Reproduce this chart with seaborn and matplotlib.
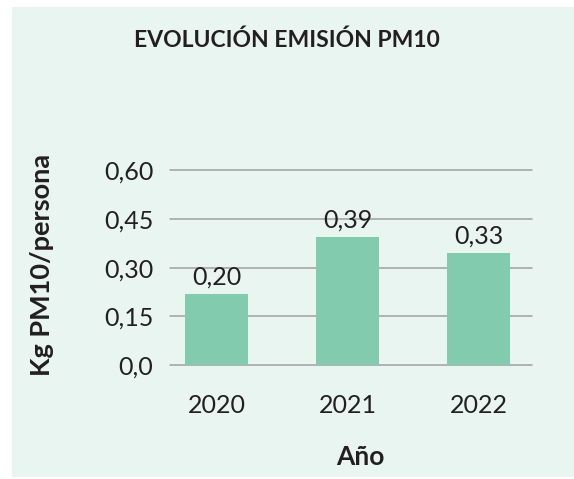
import matplotlib
matplotlib.use("Agg")
import matplotlib.pyplot as plt
import seaborn as sns
from matplotlib.patches import Rectangle

# data
YEARS = ["2020", "2021", "2022"]
VALUES = [0.219, 0.394, 0.345]
VALUE_LABELS = ["0,20", "0,39", "0,33"]
Y_TICKS = [0.0, 0.15, 0.30, 0.45, 0.60]
Y_TICK_LABELS = ["0,0", "0,15", "0,30", "0,45", "0,60"]

BG = "#e9f5f1"
BAR = "#82cbae"
TXT = "#231f20"

sns.set_theme(style="white")
plt.rcParams["font.family"] = ["Lato", "DejaVu Sans"]

fig = plt.figure(figsize=(5.74, 4.79), dpi=100)
fig.patch.set_facecolor("white")
fig.patches.append(Rectangle((12 / 574, 0.004), 1, 1 - 7 / 479 - 0.004,
                             transform=fig.transFigure, facecolor=BG,
                             edgecolor="none", zorder=-10))

ax = fig.add_axes([0.296, 0.2374, 0.631, 0.4076])
ax.set_facecolor("none")

sns.barplot(x=YEARS, y=VALUES, color=BAR, width=0.48, saturation=1,
            linewidth=0, ax=ax, zorder=3)
ax.bar_label(ax.containers[0], labels=VALUE_LABELS, padding=4,
             fontsize=18, color=TXT)

ax.set_xlim(-0.355, 2.405)
ax.set_ylim(0, 0.6)
ax.set_yticks(Y_TICKS)
ax.set_yticklabels(Y_TICK_LABELS)
for t in Y_TICKS:
    ax.axhline(t, color="#a0a0a0", lw=1.1, zorder=1, clip_on=False)

for s in ax.spines.values():
    s.set_visible(False)
ax.tick_params(axis="y", length=0, pad=12, labelsize=18, labelcolor=TXT)
ax.tick_params(axis="x", length=0, pad=21, labelsize=18, labelcolor=TXT)

ax.set_ylabel("Kg PM10/persona", fontsize=19.5, fontweight="bold", color=TXT,
              va="center")
ax.yaxis.set_label_coords(-0.354, 0.514)
ax.set_xlabel("Año", fontsize=19, fontweight="bold", color=TXT)
ax.xaxis.set_label_coords(0.525, -0.408)

fig.text(0.5, 1 - 40 / 479, "EVOLUCIÓN EMISIÓN PM10", ha="center", va="center",
         fontsize=16.5, fontweight="bold", color=TXT)

fig.savefig("out.png", dpi=100, facecolor=fig.get_facecolor())
